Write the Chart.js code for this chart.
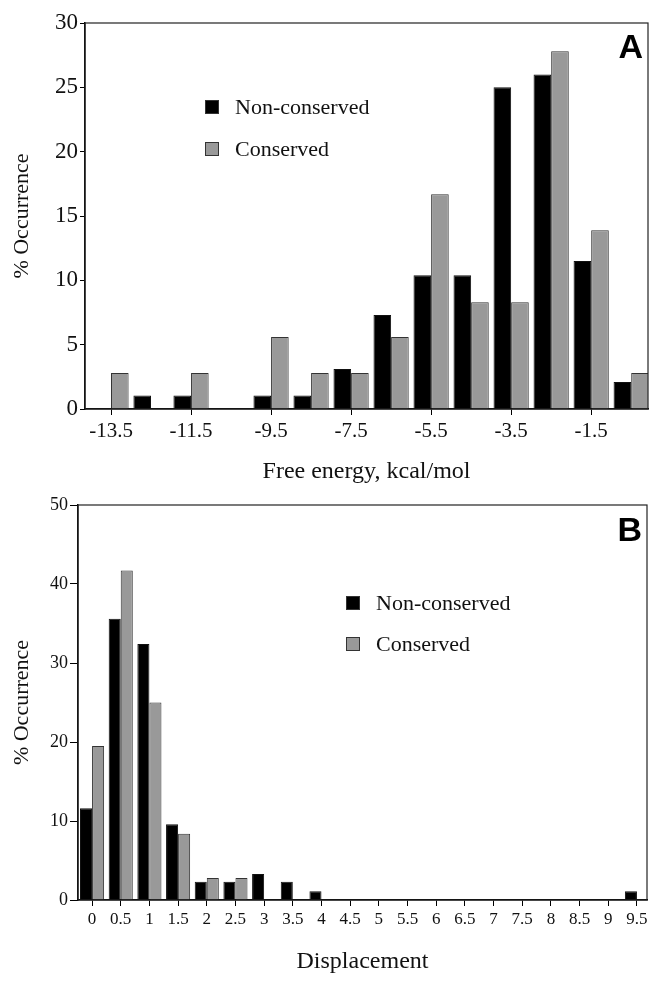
<!DOCTYPE html>
<html>
<head>
<meta charset="utf-8">
<script src="https://cdn.jsdelivr.net/npm/chart.js@4/dist/chart.umd.min.js"></script>
<style>
  html, body { margin: 0; padding: 0; background: #fff; }
  canvas { display: block; }
</style>
</head>
<body>
<canvas id="chartA" width="651" height="492"></canvas>
<canvas id="chartB" width="651" height="493"></canvas>
<script>
// Panel A: free energy bins, kcal/mol
const energyBins = [-13.5, -12.5, -11.5, -10.5, -9.5, -8.5, -7.5, -6.5, -5.5, -4.5, -3.5, -2.5, -1.5, -0.5];
const energyTicks = [-13.5, -11.5, -9.5, -7.5, -5.5, -3.5, -1.5];
const energyNonConserved = [0, 1.04, 1.04, 0, 1.04, 1.04, 3.1, 7.3, 10.4, 10.4, 25.0, 26.0, 11.5, 2.1];
const energyConserved = [2.8, 0, 2.8, 0, 5.6, 2.8, 2.8, 5.6, 16.7, 8.3, 8.3, 27.8, 13.9, 2.8];

// Panel B: displacement bins
const dispBins = [0, 0.5, 1, 1.5, 2, 2.5, 3, 3.5, 4, 4.5, 5, 5.5, 6, 6.5, 7, 7.5, 8, 8.5, 9, 9.5];
const dispNonConserved = [11.6, 35.6, 32.4, 9.6, 2.3, 2.3, 3.3, 2.3, 1.1, 0, 0, 0, 0, 0, 0, 0, 0, 0, 0, 1.1];
const dispConserved = [19.5, 41.7, 25.0, 8.4, 2.8, 2.8, 0, 0, 0, 0, 0, 0, 0, 0, 0, 0, 0, 0, 0, 0];

const serif = 'Liberation Serif';
const ink = '#111';

// frame, inside legend and panel letter
const panelDecor = {
  id: 'panelDecor',
  afterDatasetsDraw(chart, args, opts) {
    const { ctx, chartArea: a } = chart;
    ctx.save();
    ctx.strokeStyle = '#222';
    ctx.lineWidth = 1.2;
    ctx.strokeRect(a.left, a.top, a.right - a.left, a.bottom - a.top);

    chart.data.datasets.forEach((ds, i) => {
      const cy = opts.y + i * opts.gap;
      ctx.fillStyle = ds.backgroundColor;
      ctx.fillRect(opts.x, cy - 7, 14, 14);
      ctx.strokeStyle = '#333';
      ctx.lineWidth = 1;
      ctx.strokeRect(opts.x + 0.5, cy - 6.5, 13, 13);
      ctx.fillStyle = ink;
      ctx.font = '22px "' + serif + '"';
      ctx.textBaseline = 'middle';
      ctx.textAlign = 'left';
      ctx.fillText(ds.label, opts.x + 30, cy + 1);
    });

    ctx.font = 'bold 34px "Liberation Sans"';
    ctx.textAlign = 'right';
    ctx.textBaseline = 'alphabetic';
    ctx.fillStyle = '#000';
    ctx.fillText(opts.letter, opts.letterX, opts.letterY);
    ctx.restore();
  }
};

function toPoints(bins, values) {
  return bins.map((b, i) => ({ x: b, y: values[i] }));
}

function makeChart(id, cfg) {
  const datasets = [
    {
      label: 'Non-conserved',
      data: toPoints(cfg.bins, cfg.nonConserved),
      backgroundColor: '#000',
      borderColor: '#111',
      borderWidth: 1,
      categoryPercentage: cfg.catPct,
      barPercentage: 1.0
    },
    {
      label: 'Conserved',
      data: toPoints(cfg.bins, cfg.conserved),
      backgroundColor: '#999',
      borderColor: '#333',
      borderWidth: 1,
      categoryPercentage: cfg.catPct,
      barPercentage: 1.0
    }
  ];

  return new Chart(document.getElementById(id), {
    type: 'bar',
    data: { datasets },
    plugins: [panelDecor],
    options: {
      responsive: false,
      animation: false,
      devicePixelRatio: 1,
      layout: { padding: cfg.padding },
      plugins: {
        legend: { display: false },
        tooltip: { enabled: false },
        panelDecor: cfg.decor
      },
      scales: {
        x: {
          type: 'linear',
          min: cfg.xMin,
          max: cfg.xMax,
          offset: false,
          afterBuildTicks: s => { s.ticks = cfg.ticks.map(v => ({ value: v })); },
          afterFit: s => { s.height = cfg.xHeight; },
          ticks: {
            autoSkip: false,
            maxRotation: 0,
            color: ink,
            padding: cfg.xTickPad,
            font: { family: serif, size: cfg.xTickSize },
            callback: v => String(v)
          },
          grid: { drawOnChartArea: false, offset: false, color: '#000', tickLength: 6 },
          border: { color: '#000', width: 1.5 },
          title: {
            display: true,
            text: cfg.xTitle,
            color: ink,
            font: { family: serif, size: cfg.xTitleSize },
            padding: { top: 0, bottom: cfg.xTitlePad }
          }
        },
        y: {
          min: 0,
          max: cfg.yMax,
          afterFit: s => { s.width = cfg.yWidth; },
          ticks: {
            stepSize: cfg.yStep,
            color: ink,
            padding: 2,
            font: { family: serif, size: cfg.yTickSize }
          },
          grid: { drawOnChartArea: false, color: '#000', tickLength: cfg.yTickLen },
          border: { color: '#000', width: 1.5 },
          title: {
            display: true,
            text: '% Occurrence',
            color: ink,
            font: { family: serif, size: 22 },
            padding: { top: 9, bottom: 0 }
          }
        }
      }
    }
  });
}

makeChart('chartA', {
  bins: energyBins,
  ticks: energyTicks,
  nonConserved: energyNonConserved,
  conserved: energyConserved,
  catPct: 0.88,
  xMin: -14.15,
  xMax: -0.08,
  xHeight: 83,
  xTickPad: 4,
  xTickSize: 21,
  xTitle: 'Free energy, kcal/mol',
  xTitleSize: 24,
  xTitlePad: 6,
  yMax: 30,
  yStep: 5,
  yWidth: 85,
  yTickSize: 23,
  yTickLen: 5,
  padding: { top: 23, right: 3, left: 0, bottom: 0 },
  decor: { x: 205, y: 107, gap: 42, letter: 'A', letterX: 643, letterY: 58 }
});

makeChart('chartB', {
  bins: dispBins,
  ticks: dispBins,
  nonConserved: dispNonConserved,
  conserved: dispConserved,
  catPct: 0.84,
  xMin: -0.245,
  xMax: 9.675,
  xHeight: 85,
  xTickPad: 3,
  xTickSize: 17,
  xTitle: 'Displacement',
  xTitleSize: 24,
  xTitlePad: 9,
  yMax: 50,
  yStep: 10,
  yWidth: 78,
  yTickSize: 18,
  yTickLen: 8,
  padding: { top: 13, right: 4, left: 0, bottom: 0 },
  decor: { x: 346, y: 111, gap: 41, letter: 'B', letterX: 642, letterY: 49 }
});
</script>
</body>
</html>
